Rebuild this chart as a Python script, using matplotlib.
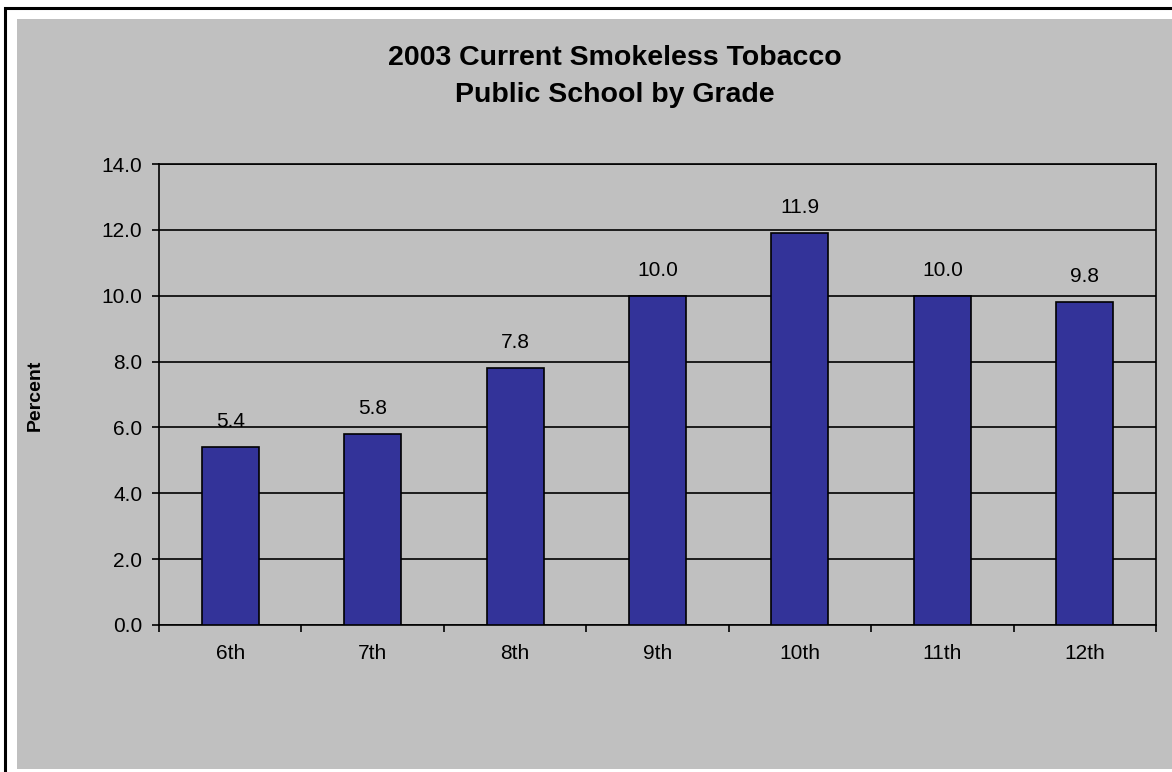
import matplotlib
matplotlib.use("Agg")
import matplotlib.pyplot as plt
from matplotlib.patches import Rectangle
import numpy as np

grades = ["6th", "7th", "8th", "9th", "10th", "11th", "12th"]
percent = [5.4, 5.8, 7.8, 10.0, 11.9, 10.0, 9.8]
yticks = [0, 2, 4, 6, 8, 10, 12, 14]

W, H = 1172, 772
plt.rcParams['font.family'] = ['Liberation Sans', 'DejaVu Sans']
fig = plt.figure(figsize=(W / 100, H / 100), dpi=100)
fig.patch.set_facecolor('white')

# outer black frame
fig.patches.append(Rectangle((5 / W, -0.1), 1.2, 1 - 8 / H + 0.1, transform=fig.transFigure,
                             facecolor='white', edgecolor='black', linewidth=2.2, zorder=-3))
# gray chart area
fig.patches.append(Rectangle((17 / W, 3 / H), 1.0, (H - 19 - 3) / H, transform=fig.transFigure,
                             facecolor='#C0C0C0', edgecolor='none', zorder=-2))

ax = fig.add_axes([159 / W, 1 - 625 / H, (1156 - 159) / W, (625 - 164) / H])
ax.set_facecolor('#C0C0C0')
x = np.arange(len(grades))
bars = ax.bar(x, percent, width=0.4, color='#333399', edgecolor='black', linewidth=1.2, zorder=3)
ax.set_xlim(-0.5, len(grades) - 0.5)
ax.set_ylim(0, 14)
ax.set_yticks(yticks)
ax.set_yticklabels([f"{v:.1f}" for v in yticks], fontsize=15)
ax.set_xticks(x)
ax.set_xticklabels(grades, fontsize=15)
ax.tick_params(axis='x', length=0, pad=14)
ax.set_xticks(np.arange(len(grades) + 1) - 0.5, minor=True)
ax.tick_params(axis='x', which='minor', length=5, width=1.2, direction='out')
ax.tick_params(axis='y', length=5, width=1.2, direction='out', pad=7)
ax.grid(axis='y', color='black', linewidth=1.2, zorder=1)
for s in ax.spines.values():
    s.set_linewidth(1.2)
    s.set_color('black')

for xi, v in zip(x, percent):
    ax.annotate(f"{v:.1f}", (xi, v), xytext=(0, 14.5), textcoords='offset points',
                ha='center', va='baseline', fontsize=15)

fig.text(615 / W, 1 - 65 / H, "2003 Current Smokeless Tobacco", ha='center', va='baseline',
         fontsize=20.5, fontweight='bold')
fig.text(615 / W, 1 - 102 / H, "Public School by Grade", ha='center', va='baseline',
         fontsize=20.5, fontweight='bold')
fig.text(35 / W, 1 - 395 / H, "Percent", rotation=90, ha='center', va='center',
         fontsize=14, fontweight='bold')

fig.savefig("out.png", dpi=100, facecolor=fig.get_facecolor())
